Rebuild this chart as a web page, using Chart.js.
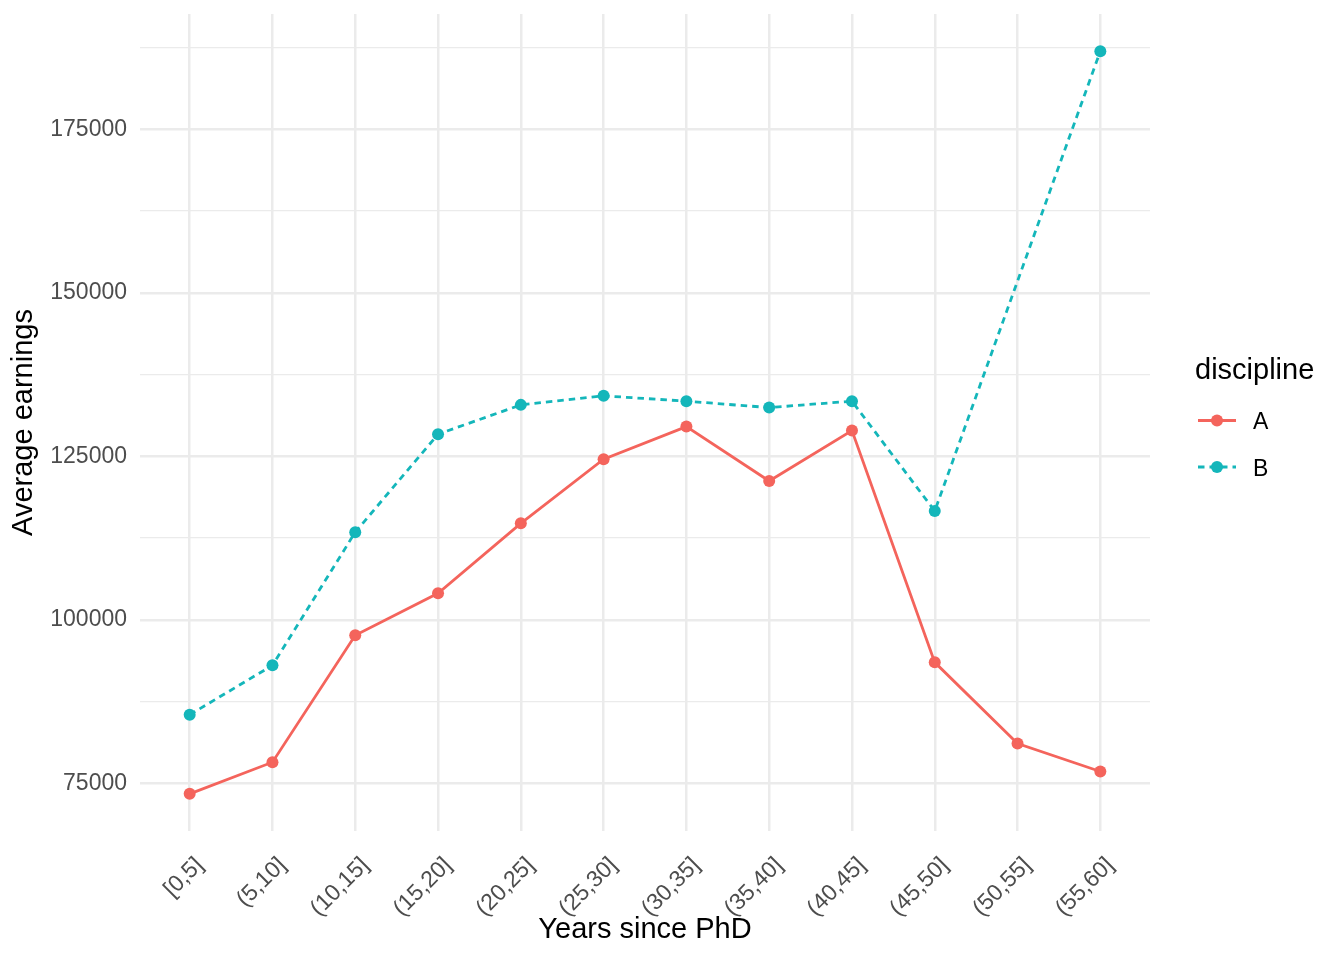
<!DOCTYPE html>
<html>
<head>
<meta charset="utf-8">
<script src="https://cdn.jsdelivr.net/npm/chart.js@4/dist/chart.umd.min.js"></script>
<style>
html,body{margin:0;padding:0;background:#ffffff;}
canvas{display:block;}
</style>
</head>
<body>
<canvas id="c" width="1344" height="960"></canvas>
<script>
// ---- data ----
const categories = ['[0,5]','(5,10]','(10,15]','(15,20]','(20,25]','(25,30]','(30,35]','(35,40]','(40,45]','(45,50]','(50,55]','(55,60]'];
const seriesNames = ['A', 'B'];
const seriesA = [73377, 78216, 97619, 104050, 114740, 124541, 129533, 121217, 128920, 93484, 81080, 76792];
const seriesB = [85475, 93025, 113392, 128369, 132856, 134234, 133423, 132443, 133423, 116623, null, 186945];
const yMajorTicks = [75000, 100000, 125000, 150000, 175000];
const yMinorTicks = [87500, 112500, 137500, 162500, 187500];
const xTitle = 'Years since PhD';
const yTitle = 'Average earnings';
const legendTitle = 'discipline';

// ---- styles ----
const colors = ['#F4645C', '#14B6BA'];
const dashes = [[], [6.5, 5]];
const FONT = '"Liberation Sans", Arial, Helvetica, sans-serif';
Chart.defaults.font.family = FONT;

const allVals = seriesA.concat(seriesB).filter(v => v !== null);
const dMin = Math.min(...allVals), dMax = Math.max(...allVals);
const expand = 0.05 * (dMax - dMin);

const seriesData = [seriesA, seriesB];
const datasets = seriesData.map((s, k) => ({
  label: seriesNames[k],
  data: s.map((v, i) => ({x: i, y: v})),
  borderColor: colors[k],
  backgroundColor: colors[k],
  borderWidth: 2.8,
  borderDash: dashes[k],
  pointRadius: 6,
  pointBorderWidth: 0,
  pointHoverRadius: 6,
  tension: 0,
  spanGaps: true,
  fill: false
}));

const legendPlugin = {
  id: 'ggLegend',
  afterDraw(chart) {
    const ctx = chart.ctx;
    ctx.save();
    ctx.fillStyle = '#000000';
    ctx.textAlign = 'left';
    ctx.textBaseline = 'alphabetic';
    ctx.font = '29px ' + FONT;
    ctx.fillText(legendTitle, 1195, 379);
    seriesNames.forEach((name, k) => {
      const cy = 420.5 + k * 46.5;
      ctx.strokeStyle = colors[k];
      ctx.lineWidth = 2.8;
      ctx.setLineDash(dashes[k]);
      ctx.beginPath();
      ctx.moveTo(1198, cy);
      ctx.lineTo(1236, cy);
      ctx.stroke();
      ctx.setLineDash([]);
      ctx.fillStyle = colors[k];
      ctx.beginPath();
      ctx.arc(1217, cy, 6, 0, Math.PI * 2);
      ctx.fill();
      ctx.fillStyle = '#000000';
      ctx.font = '23px ' + FONT;
      ctx.fillText(name, 1253, cy + 8.6);
    });
    ctx.restore();
  }
};

new Chart(document.getElementById('c'), {
  type: 'line',
  data: { datasets },
  plugins: [legendPlugin],
  options: {
    responsive: false,
    devicePixelRatio: 1,
    animation: false,
    layout: { padding: { left: 0, right: 194, top: 14, bottom: 0 } },
    plugins: { legend: { display: false }, tooltip: { enabled: false } },
    scales: {
      x: {
        type: 'linear',
        min: -0.6,
        max: categories.length - 1 + 0.6,
        afterBuildTicks: axis => { axis.ticks = categories.map((c, i) => ({ value: i })); },
        afterFit: scale => { scale.height = 129; scale.paddingLeft = 0; scale.paddingRight = 0; },
        ticks: {
          callback: v => categories[v],
          autoSkip: false,
          minRotation: 45,
          maxRotation: 45,
          padding: 21,
          labelOffset: 10,
          color: '#4D4D4D',
          font: { size: 23 }
        },
        grid: { color: '#EBEBEB', lineWidth: 2.5, drawTicks: false },
        border: { display: false },
        title: {
          display: true,
          text: xTitle,
          color: '#000000',
          font: { size: 29 },
          padding: { top: 0, bottom: 12.6 }
        }
      },
      y: {
        type: 'linear',
        min: dMin - expand,
        max: dMax + expand,
        afterBuildTicks: axis => {
          axis.ticks = yMajorTicks.concat(yMinorTicks).sort((a, b) => a - b).map(v => ({ value: v }));
        },
        afterFit: scale => { scale.width = 140; scale.paddingTop = 0; scale.paddingBottom = 0; },
        ticks: {
          callback: v => yMajorTicks.includes(v) ? String(v) : '',
          padding: 13,
          color: '#4D4D4D',
          font: { size: 23 }
        },
        grid: {
          color: '#EBEBEB',
          lineWidth: ctx => (ctx.tick && yMajorTicks.includes(ctx.tick.value)) ? 2.5 : 1.3,
          drawTicks: false
        },
        border: { display: false },
        title: {
          display: true,
          text: yTitle,
          color: '#000000',
          font: { size: 29 },
          padding: { top: 6.6, bottom: 0 }
        }
      }
    }
  }
});
</script>
</body>
</html>
